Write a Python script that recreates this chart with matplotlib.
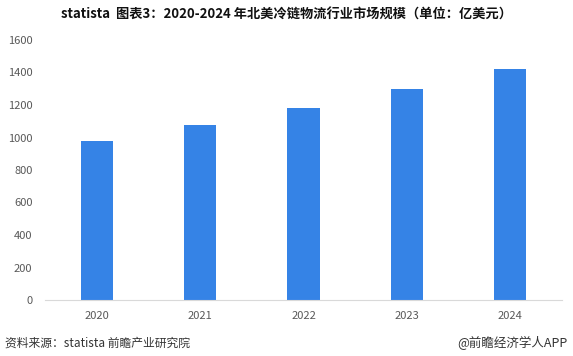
import matplotlib.pyplot as plt

plt.rcParams['font.family'] = ['Noto Sans CJK SC', 'DejaVu Sans']

years = ['2020', '2021', '2022', '2023', '2024']
market = [980, 1078, 1182, 1298, 1420]
y_ticks = [0, 200, 400, 600, 800, 1000, 1200, 1400, 1600]

fig = plt.figure(figsize=(5.73, 3.56), dpi=100)
ax = fig.add_axes([45 / 573, 56 / 356, 517 / 573, 260 / 356])

ax.bar(range(len(years)), market, width=0.31, color='#3583e6')
ax.set_xlim(-0.5, len(years) - 0.5)
ax.set_ylim(0, 1600)
ax.set_xticks(range(len(years)))
ax.set_xticklabels(years)
ax.set_yticks(y_ticks)
ax.tick_params(axis='both', length=0, labelsize=8, labelcolor='#595959')
ax.tick_params(axis='x', pad=8)
ax.tick_params(axis='y', pad=9)
for s in ['top', 'right', 'left']:
    ax.spines[s].set_visible(False)
ax.spines['bottom'].set_color('#d9d9d9')

fig.text(0.5, 1 - 15 / 356, 'statista  图表3：2020-2024 年北美冷链物流行业市场规模（单位：亿美元）',
         ha='center', va='center', fontsize=9.5, fontweight='bold', color='#111111')
fig.text(5 / 573, 1 - 343 / 356, '资料来源：statista 前瞻产业研究院',
         ha='left', va='center', fontsize=8.5, color='#333333')
fig.text(568 / 573, 1 - 343 / 356, '@前瞻经济学人APP',
         ha='right', va='center', fontsize=9, color='#333333')

fig.savefig('out.png', dpi=100)
